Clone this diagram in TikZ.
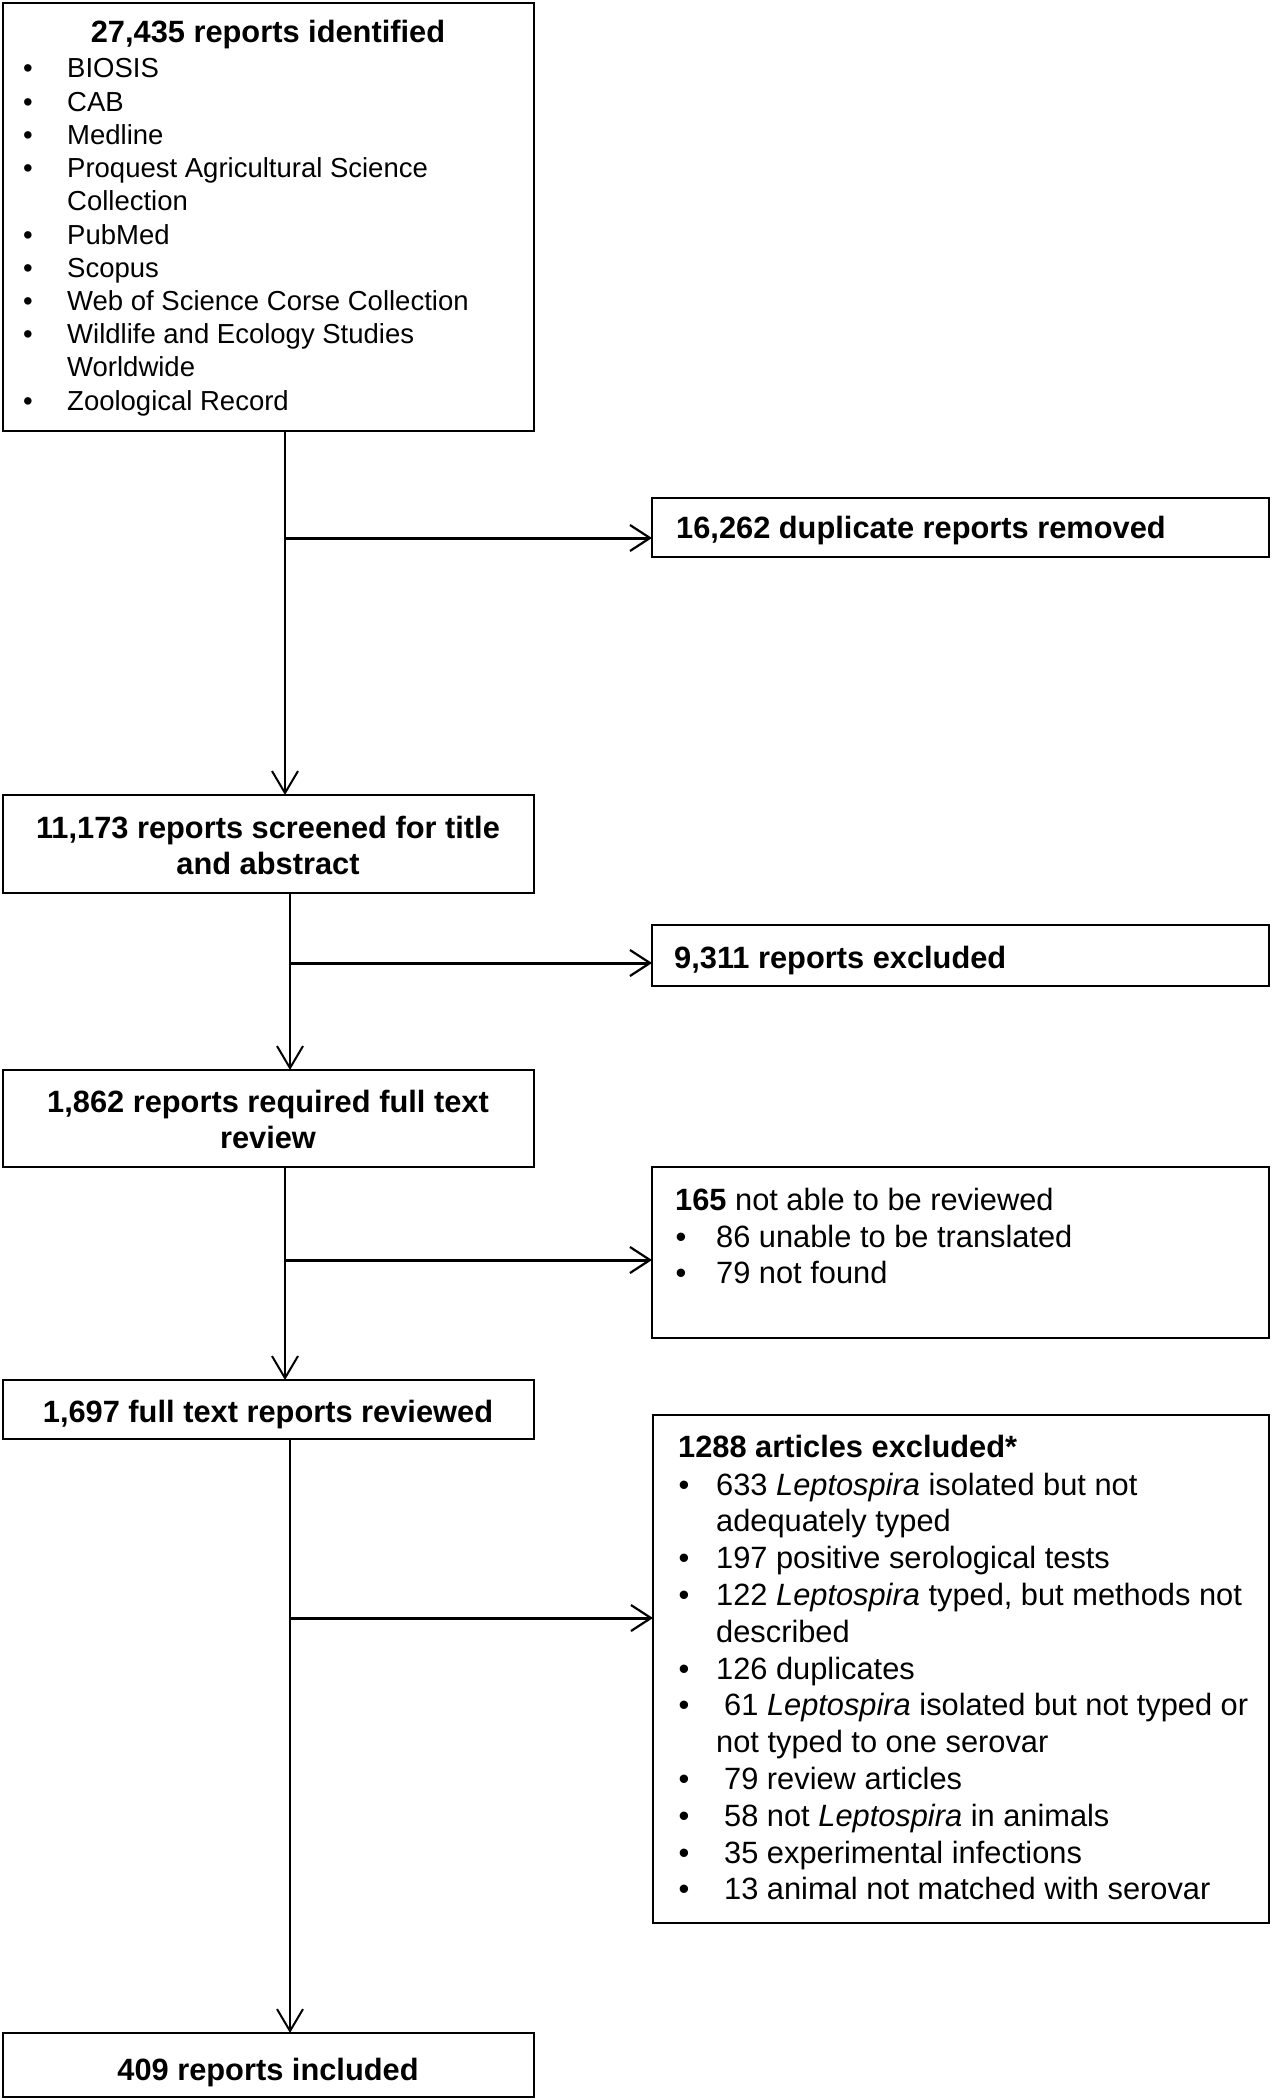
\documentclass[tikz,border=0pt]{standalone}
\usepackage{fontspec}
\setmainfont{Liberation Sans}
\usetikzlibrary{arrows.meta}
\tikzset{
  box/.style={draw, line width=2.7pt, inner sep=0pt, outer sep=0pt, anchor=north west},
  lt/.style={anchor=base west, inner sep=0pt, font=\fontsize{30.8}{37}\selectfont},
  bt/.style={anchor=base west, inner sep=0pt, font=\fontsize{30.8}{37}\selectfont\bfseries},
  ct/.style={anchor=base, inner sep=0pt, font=\fontsize{30.8}{37}\selectfont\bfseries},
  st/.style={anchor=base west, inner sep=0pt, font=\fontsize{27.5}{33}\selectfont},
  sbul/.style={anchor=base, inner sep=0pt, font=\fontsize{27.5}{33}\selectfont},
  lbul/.style={anchor=base, inner sep=0pt, font=\fontsize{30.8}{37}\selectfont},
  vline/.style={line width=2pt, -{Straight Barb[length=22pt,width=26pt,line width=2pt]}},
  hline/.style={line width=3pt, -{Straight Barb[length=20pt,width=26pt,line width=2.2pt]}},
}
\begin{document}
\begin{tikzpicture}[x=1pt,y=-1pt]
\useasboundingbox (0,0) rectangle (1273,2100);

% boxes
\node[box, minimum width=531pt, minimum height=428pt] (b1) at (3,3) {};
\node[box, minimum width=617pt, minimum height=59pt] (b2) at (652,498) {};
\node[box, minimum width=531pt, minimum height=98pt] (b3) at (3,795) {};
\node[box, minimum width=617pt, minimum height=61pt] (b4) at (652,925) {};
\node[box, minimum width=531pt, minimum height=97pt] (b5) at (3,1070) {};
\node[box, minimum width=617pt, minimum height=171pt] (b6) at (652,1167) {};
\node[box, minimum width=531pt, minimum height=59pt] (b7) at (3,1380) {};
\node[box, minimum width=616pt, minimum height=508pt] (b8) at (653,1415) {};
\node[box, minimum width=531pt, minimum height=64pt] (b9) at (3,2033) {};

% box 1 text
\node[ct] (t1) at (268,43) {27,435 reports identified};
\node[sbul] (t1b1) at (28,78) {•};     \node[st] (t1l1) at (67,78) {BIOSIS};
\node[sbul] (t1b2) at (28,111.2) {•};  \node[st] (t1l2) at (67,111.2) {CAB};
\node[sbul] (t1b3) at (28,144.4) {•};  \node[st] (t1l3) at (67,144.4) {Medline};
\node[sbul] (t1b4) at (28,177.6) {•};  \node[st] (t1l4) at (67,177.6) {Proquest Agricultural Science};
                                       \node[st] (t1l5) at (67,210.8) {Collection};
\node[sbul] (t1b6) at (28,244) {•};    \node[st] (t1l6) at (67,244) {PubMed};
\node[sbul] (t1b7) at (28,277.2) {•};  \node[st] (t1l7) at (67,277.2) {Scopus};
\node[sbul] (t1b8) at (28,310.4) {•};  \node[st] (t1l8) at (67,310.4) {Web of Science Corse Collection};
\node[sbul] (t1b9) at (28,343.6) {•};  \node[st] (t1l9) at (67,343.6) {Wildlife and Ecology Studies};
                                       \node[st] (t1l10) at (67,376.8) {Worldwide};
\node[sbul] (t1b11) at (28,410) {•};   \node[st] (t1l11) at (67,410) {Zoological Record};

% other left boxes
\node[bt] (t2) at (676,538) {16,262 duplicate reports removed};
\node[ct] (t3a) at (268,838) {11,173 reports screened for title};
\node[ct] (t3b) at (268,874) {and abstract};
\node[bt] (t4) at (674,968) {9,311 reports excluded};
\node[ct] (t5a) at (268,1112) {1,862 reports required full text};
\node[ct] (t5b) at (268,1148) {review};

% box 6
\node[lt] (t6) at (675,1210) {\textbf{165} not able to be reviewed};
\node[lbul] (t6b1) at (681,1247) {•}; \node[lt] (t6l1) at (716,1247) {86 unable to be translated};
\node[lbul] (t6b2) at (681,1283) {•}; \node[lt] (t6l2) at (716,1283) {79 not found};

\node[ct] (t7) at (268,1422) {1,697 full text reports reviewed};

% box 8
\node[bt] (t8) at (678,1457) {1288 articles excluded*};
\node[lbul] (t8b0) at (684,1495) {•};    \node[lt] (t8l0) at (716,1495) {633 \textit{Leptospira} isolated but not};
                                         \node[lt] (t8l1) at (716,1531.8) {adequately typed};
\node[lbul] (t8b2) at (684,1568.6) {•};  \node[lt] (t8l2) at (716,1568.6) {197 positive serological tests};
\node[lbul] (t8b3) at (684,1605.4) {•};  \node[lt] (t8l3) at (716,1605.4) {122 \textit{Leptospira} typed, but methods not};
                                         \node[lt] (t8l4) at (716,1642.2) {described};
\node[lbul] (t8b5) at (684,1679) {•};    \node[lt] (t8l5) at (716,1679) {126 duplicates};
\node[lbul] (t8b6) at (684,1715.8) {•};  \node[lt] (t8l6) at (724,1715.8) {61 \textit{Leptospira} isolated but not typed or};
                                         \node[lt] (t8l7) at (716,1752.6) {not typed to one serovar};
\node[lbul] (t8b8) at (684,1789.4) {•};  \node[lt] (t8l8) at (724,1789.4) {79 review articles};
\node[lbul] (t8b9) at (684,1826.2) {•};  \node[lt] (t8l9) at (724,1826.2) {58 not \textit{Leptospira} in animals};
\node[lbul] (t8b10) at (684,1863) {•};   \node[lt] (t8l10) at (724,1863) {35 experimental infections};
\node[lbul] (t8b11) at (684,1899.8) {•}; \node[lt] (t8l11) at (724,1899.8) {13 animal not matched with serovar};

\node[ct] (t9) at (268,2080) {409 reports included};

% connectors
\coordinate (j1) at (285,538);
\coordinate (j2) at (290,963);
\coordinate (j3) at (285,1260);
\coordinate (j4) at (290,1618);
\draw[vline] (b1.south -| j1) -- (b3.north -| j1);
\draw[hline] (j1) -- (j1 -| b2.west);
\draw[vline] (b3.south -| j2) -- (b5.north -| j2);
\draw[hline] (j2) -- (j2 -| b4.west);
\draw[vline] (b5.south -| j3) -- (b7.north -| j3);
\draw[hline] (j3) -- (j3 -| b6.west);
\draw[vline] (b7.south -| j4) -- (b9.north -| j4);
\draw[hline] (j4) -- (j4 -| b8.west);
\end{tikzpicture}
\end{document}
